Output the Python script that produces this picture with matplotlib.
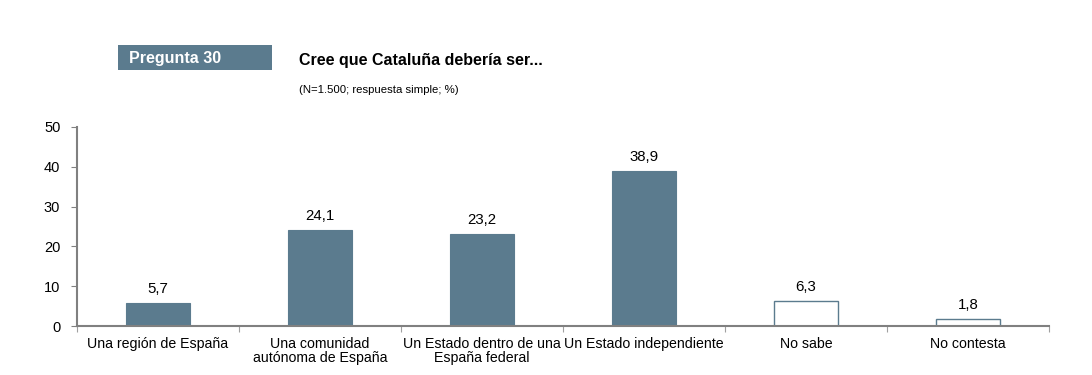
import matplotlib
matplotlib.use("Agg")
import matplotlib.pyplot as plt
from matplotlib.patches import Rectangle

plt.rcParams['font.family'] = ['Liberation Sans', 'DejaVu Sans']

categories = ["Una región de España", "Una comunidad\nautónoma de España",
              "Un Estado dentro de una\nEspaña federal", "Un Estado independiente",
              "No sabe", "No contesta"]
values = [5.7, 24.1, 23.2, 38.9, 6.3, 1.8]
filled = [True, True, True, True, False, False]
value_labels = ["5,7", "24,1", "23,2", "38,9", "6,3", "1,8"]
yticks = [0, 10, 20, 30, 40, 50]

color = "#5B7B8E"
fig = plt.figure(figsize=(10.92, 3.75), dpi=100)
ax = fig.add_axes([77/1092, 1-326/375, (1049-77)/1092, (326-127)/375])

x = list(range(len(categories)))
for xi, v, f, lab in zip(x, values, filled, value_labels):
    if f:
        ax.bar(xi, v, width=0.4, color=color, edgecolor=color, linewidth=0.8)
    else:
        ax.bar(xi, v, width=0.4, facecolor="white", edgecolor=color, linewidth=1.0)
    ax.text(xi, v + 1.8, lab, ha="center", va="bottom", fontsize=10.8, color="black")

ax.set_xlim(-0.5, len(categories) - 0.5)
ax.set_ylim(0, 50)
ax.set_yticks(yticks)
ax.set_yticklabels([str(t) for t in yticks], fontsize=10.5)
ax.set_xticks([i - 0.5 for i in range(len(categories) + 1)])
ax.set_xticklabels([])
ax.set_xticks(x, minor=True)
ax.set_xticklabels(categories, minor=True, fontsize=10.2, linespacing=1.0)
ax.tick_params(axis="x", which="minor", length=0, pad=8)
ax.tick_params(axis="x", which="major", length=4, color="#A0A0A0", direction="out")
ax.tick_params(axis="y", length=4, color="#808080", pad=8)
for s in ["top", "right"]:
    ax.spines[s].set_visible(False)
for s in ["left", "bottom"]:
    ax.spines[s].set_color("#808080")
    ax.spines[s].set_linewidth(1.5)

# Header
fig.patches.append(Rectangle((118/1092, 1-70/375), (272-118)/1092, 25/375,
                             transform=fig.transFigure, facecolor=color, edgecolor="none"))
fig.text(129/1092, 1-58/375, "Pregunta 30", color="white", fontsize=11.5, fontweight="bold",
         va="center", ha="left")
fig.text(299/1092, 1-61/375, "Cree que Cataluña debería ser...", color="black", fontsize=11.5,
         fontweight="bold", va="center", ha="left")
fig.text(299/1092, 1-90/375, "(N=1.500; respuesta simple; %)", color="black", fontsize=8.2,
         va="center", ha="left")

fig.savefig("out.png", dpi=100)
